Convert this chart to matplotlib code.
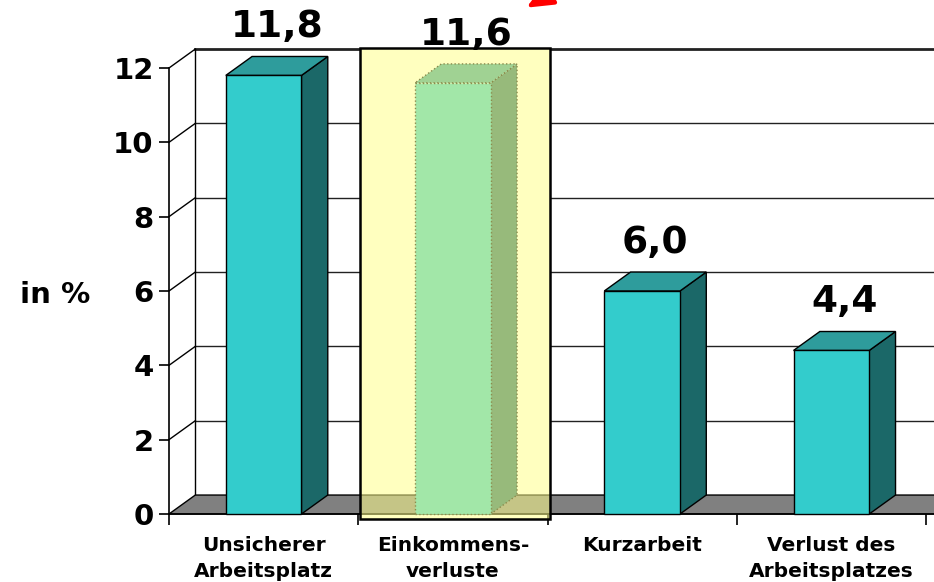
import matplotlib
matplotlib.use("Agg")
import matplotlib.pyplot as plt
from matplotlib.patches import Polygon, Rectangle

categories = ["Unsicherer\nArbeitsplatz", "Einkommens-\nverluste", "Kurzarbeit", "Verlust des\nArbeitsplatzes"]
values = [11.8, 11.6, 6.0, 4.4]
value_labels = ["11,8", "11,6", "6,0", "4,4"]
highlight = 1
yticks = [0, 2, 4, 6, 8, 10, 12]

W, H = 934, 582
fig = plt.figure(figsize=(W / 100, H / 100), dpi=100)
# front plane: x 0..4 -> px 169..926, y 0..12 -> px 514..68
ax = fig.add_axes([169 / W, 68 / H, (926 - 169) / W, (514 - 68) / H])
ax.set_xlim(0, 4)
ax.set_ylim(0, 12)

DX, DY = 0.139, 0.51   # depth offset in data units
BW = 0.4               # bar width
XMAX = 4.2

for s in ["top", "right", "bottom"]:
    ax.spines[s].set_visible(False)
ax.spines["left"].set_linewidth(1.2)
ax.patch.set_visible(False)

# back wall gridlines and left wall diagonals
for v in yticks[1:]:
    lw = 2.0 if v == yticks[-1] else 1.0
    ax.plot([DX, XMAX], [v + DY, v + DY], color="#222222", lw=lw, zorder=1, clip_on=False)
    ax.plot([0, DX], [v, v + DY], color="black", lw=1.0, zorder=1, clip_on=False)
ax.plot([DX, DX], [DY, 12 + DY], color="black", lw=1.0, zorder=1, clip_on=False)

# floor
ax.add_patch(Polygon([(0, 0), (XMAX, 0), (XMAX + DX, DY), (DX, DY)], closed=True,
                     facecolor="#808080", edgecolor="black", lw=1.0, zorder=2, clip_on=False))
ax.plot([0, XMAX], [0, 0], color="black", lw=1.2, zorder=3, clip_on=False)

# bars
for i, v in enumerate(values):
    x0 = i + 0.5 - BW / 2
    x1 = x0 + BW
    ls = ":" if i == highlight else "-"
    ax.add_patch(Polygon([(x1, 0), (x1 + DX, DY), (x1 + DX, v + DY), (x1, v)],
                         facecolor="#1B6868", edgecolor="black", lw=1.0, zorder=4, clip_on=False, linestyle=ls))
    ax.add_patch(Polygon([(x0, v), (x1, v), (x1 + DX, v + DY), (x0 + DX, v + DY)],
                         facecolor="#2E9C9C", edgecolor="black", lw=1.0, zorder=4, clip_on=False, linestyle=ls))
    ax.add_patch(Rectangle((x0, 0), BW, v, facecolor="#33CCCC", edgecolor="black",
                           lw=1.0, zorder=5, clip_on=False, linestyle=ls))
    ax.text(i + 0.5 + DX / 2, v + DY + 0.3, value_labels[i], ha="center", va="bottom",
            fontsize=27, fontweight="bold", zorder=10)

# highlight box (white underlay hides gridlines, tinted yellow overlay on top)
bx0, bx1, by0, by1 = 1.009, 2.013, -0.14, 12.54
ax.add_patch(Rectangle((bx0, DY), bx1 - bx0, by1 - DY, facecolor="white",
                       edgecolor="none", zorder=1.5, clip_on=False))
ax.add_patch(Rectangle((bx0, by0), bx1 - bx0, by1 - by0, facecolor="#FFFF8C", alpha=0.55,
                       edgecolor="none", zorder=7, clip_on=False))
ax.add_patch(Rectangle((bx0, by0), bx1 - bx0, by1 - by0, facecolor="none",
                       edgecolor="black", lw=1.8, zorder=8, clip_on=False))

# ticks and labels
ax.set_yticks(yticks)
ax.set_yticklabels([str(t) for t in yticks], fontsize=21, fontweight="bold")
ax.tick_params(axis="y", length=7, width=1.2, pad=4)
ax.set_xticks([0.5, 1.5, 2.5, 3.5])
ax.set_xticklabels(categories, fontsize=14.5, fontweight="bold", linespacing=1.45)
ax.set_xticks([0, 1, 2, 3, 4], minor=True)
ax.tick_params(axis="x", which="major", length=0, pad=16)
ax.tick_params(axis="x", which="minor", length=8, width=1.2)

fig.text(55 / W, 1 - 295 / H, "in %", ha="center", va="center", fontsize=21, fontweight="bold")

# red arrow pointing at the highlighted value
ax.annotate("", xy=((524 - 169) / 189.25, (514 - 9) / 37.17),
            xytext=((610 - 169) / 189.25, (514 + 40) / 37.17),
            xycoords="data", textcoords="data",
            arrowprops=dict(arrowstyle="-|>,head_length=1.6,head_width=0.7", color="red", lw=3),
            annotation_clip=False, zorder=12)

fig.savefig("out.png", dpi=100)
